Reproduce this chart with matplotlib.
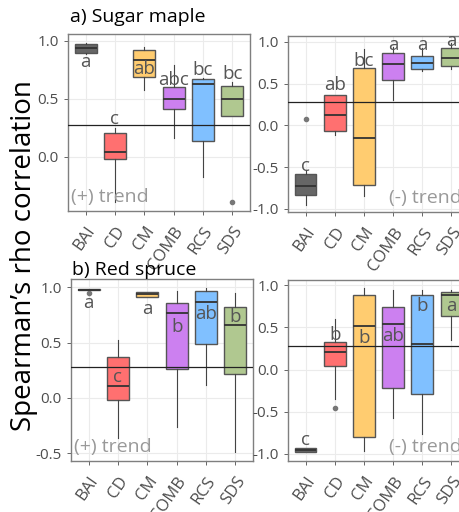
import numpy as np
import matplotlib.pyplot as plt

plt.rcParams['font.family'] = ['Open Sans', 'DejaVu Sans']

methods = ['BAI', 'CD', 'CM', 'COMB', 'RCS', 'SDS']
colors = ['#666666', '#FF7070', '#FFCC70', '#CC80F0', '#80C0FF', '#B0C890']
rho_crit = 0.276

# a) Sugar maple, (+) trend
sm_pos_q1 = [0.90, -0.02, 0.69, 0.41, 0.14, 0.35]
sm_pos_med = [0.94, 0.04, 0.84, 0.50, 0.63, 0.50]
sm_pos_q3 = [0.975, 0.21, 0.925, 0.60, 0.67, 0.615]
sm_pos_lo = [0.89, -0.39, 0.58, 0.16, -0.17, 0.35]
sm_pos_hi = [0.985, 0.25, 0.95, 0.79, 0.68, 0.65]
sm_pos_fl = [[], [], [], [], [], [-0.39]]
sm_pos_let = ['a', 'c', 'ab', 'abc', 'bc', 'bc']
sm_pos_lety = [0.82, 0.33, 0.755, 0.66, 0.75, 0.715]

# a) Sugar maple, (-) trend
sm_neg_q1 = [-0.83, -0.07, -0.71, 0.54, 0.675, 0.71]
sm_neg_med = [-0.73, 0.12, -0.15, 0.74, 0.75, 0.81]
sm_neg_q3 = [-0.58, 0.36, 0.69, 0.87, 0.835, 0.93]
sm_neg_lo = [-0.95, -0.11, -0.85, 0.30, 0.65, 0.68]
sm_neg_hi = [-0.53, 0.36, 0.92, 0.94, 0.93, 0.99]
sm_neg_fl = [[0.08], [], [], [], [], []]
sm_neg_let = ['c', 'ab', 'bc', 'a', 'a', 'a']
sm_neg_lety = [-0.49, 0.48, 0.77, 0.96, 0.96, 1.01]

# b) Red spruce, (+) trend
rs_pos_q1 = [0.975, -0.02, 0.91, 0.26, 0.49, 0.22]
rs_pos_med = [0.98, 0.11, 0.935, 0.77, 0.87, 0.66]
rs_pos_q3 = [0.985, 0.37, 0.955, 0.86, 0.97, 0.825]
rs_pos_lo = [0.975, -0.36, 0.91, -0.26, 0.12, -0.49]
rs_pos_hi = [0.985, 0.52, 0.955, 0.97, 0.99, 0.95]
rs_pos_fl = [[0.95], [], [], [], [], []]
rs_pos_let = ['a', 'c', 'a', 'b', 'ab', 'b']
rs_pos_lety = [0.855, 0.19, 0.80, 0.64, 0.76, 0.735]

# b) Red spruce, (-) trend
rs_neg_q1 = [-0.975, 0.04, -0.80, -0.22, -0.285, 0.635]
rs_neg_med = [-0.955, 0.21, 0.52, 0.545, 0.31, 0.89]
rs_neg_q3 = [-0.925, 0.325, 0.88, 0.74, 0.88, 0.925]
rs_neg_lo = [-0.975, -0.35, -0.97, -0.57, -0.76, 0.35]
rs_neg_hi = [-0.925, 0.60, 0.97, 0.94, 0.94, 0.94]
rs_neg_fl = [[], [-0.46], [], [], [], []]
rs_neg_let = ['c', 'b', 'b', 'ab', 'b', 'a']
rs_neg_lety = [-0.83, 0.41, 0.38, 0.40, 0.75, 0.76]


def draw_panel(ax, q1, med, q3, lo, hi, fl, letters, lety, ylim, yticks, trend):
    stats = []
    for i in range(len(methods)):
        stats.append({'q1': q1[i], 'med': med[i], 'q3': q3[i],
                      'whislo': lo[i], 'whishi': hi[i], 'fliers': fl[i]})
    bp = ax.bxp(stats, positions=range(1, 7), widths=0.75, patch_artist=True,
                showcaps=False,
                medianprops=dict(color='#333333', lw=1.3),
                whiskerprops=dict(color='#444444', lw=0.8),
                flierprops=dict(marker='o', markerfacecolor='#777777',
                                markeredgecolor='#777777', markersize=3))
    for patch, c in zip(bp['boxes'], colors):
        patch.set_facecolor(c)
        patch.set_edgecolor('#555555')
        patch.set_linewidth(1.0)
    ax.axhline(rho_crit, color='#222222', lw=0.9, zorder=5)
    for i, (t, y) in enumerate(zip(letters, lety)):
        ax.text(i + 1, y, t, ha='center', va='center', fontsize=13.5,
                color='#555555', zorder=6)
    ax.set_xlim(0.4, 6.6)
    ax.set_ylim(*ylim)
    ax.set_yticks(yticks)
    ax.set_yticklabels([f'{v:.1f}' for v in yticks])
    ax.set_xticks(range(1, 7))
    ax.set_xticklabels(methods, rotation=55, ha='right', va='top',
                       rotation_mode='anchor')
    ax.tick_params(colors='#4D4D4D', labelsize=11, length=3, width=0.6)
    ax.tick_params(axis='x', labelsize=12, pad=6)
    ax.grid(True, color='#EBEBEB', lw=0.8)
    ax.set_axisbelow(True)
    for s in ax.spines.values():
        s.set_color('#7F7F7F')
        s.set_linewidth(1.0)
    if trend == '+':
        ax.text(0.015, 0.03, '(+) trend', transform=ax.transAxes, ha='left',
                va='bottom', fontsize=14, color='#999999')
    else:
        ax.text(0.96, 0.03, '(-) trend', transform=ax.transAxes, ha='right',
                va='bottom', fontsize=14, color='#999999')


fig = plt.figure(figsize=(4.59, 5.12), dpi=100)
W, H = 459, 512


def add_ax(l, t, r, b):
    return fig.add_axes([l / W, 1 - b / H, (r - l) / W, (b - t) / H])


ax1 = add_ax(68, 34, 250, 211)
ax2 = add_ax(288, 36, 469, 212)
ax3 = add_ax(71, 279, 253, 461)
ax4 = add_ax(288, 280, 469, 461)

draw_panel(ax1, sm_pos_q1, sm_pos_med, sm_pos_q3, sm_pos_lo, sm_pos_hi,
           sm_pos_fl, sm_pos_let, sm_pos_lety, (-0.466, 1.06),
           [0.0, 0.5, 1.0], '+')
draw_panel(ax2, sm_neg_q1, sm_neg_med, sm_neg_q3, sm_neg_lo, sm_neg_hi,
           sm_neg_fl, sm_neg_let, sm_neg_lety, (-1.036, 1.07),
           [-1.0, -0.5, 0.0, 0.5, 1.0], '-')
draw_panel(ax3, rs_pos_q1, rs_pos_med, rs_pos_q3, rs_pos_lo, rs_pos_hi,
           rs_pos_fl, rs_pos_let, rs_pos_lety, (-0.57, 1.075),
           [-0.5, 0.0, 0.5, 1.0], '+')
draw_panel(ax4, rs_neg_q1, rs_neg_med, rs_neg_q3, rs_neg_lo, rs_neg_hi,
           rs_neg_fl, rs_neg_let, rs_neg_lety, (-1.083, 1.063),
           [-1.0, -0.5, 0.0, 0.5, 1.0], '-')

fig.text(70 / W, 1 - 17 / H, 'a) Sugar maple', ha='left', va='center',
         fontsize=14, color='black')
fig.text(72 / W, 1 - 270 / H, 'b) Red spruce', ha='left', va='center',
         fontsize=14, color='black')
fig.text(24 / W, 1 - 256 / H, 'Spearman\u2019s rho correlation', rotation=90,
         ha='center', va='center', fontsize=20, color='black')

fig.savefig('out.png', dpi=100)
